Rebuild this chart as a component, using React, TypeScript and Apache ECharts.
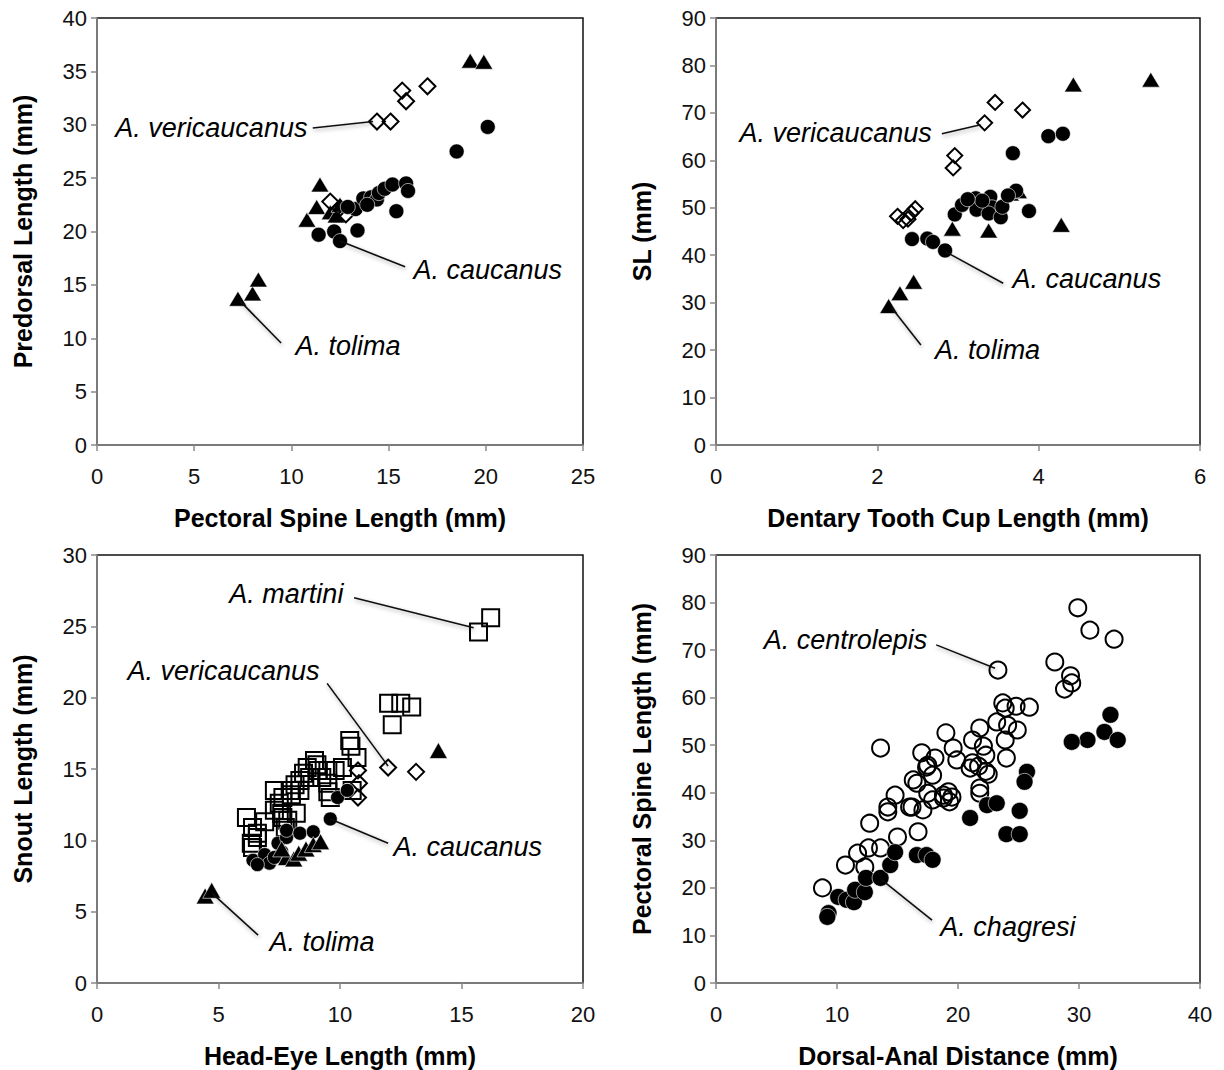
import React, { useEffect, useRef } from "react";
import * as echarts from "echarts";

const FONT = "'Liberation Sans', Arial, Helvetica, sans-serif";

// ---------- Panel 1: Pectoral Spine Length vs Predorsal Length ----------
const p1Tolima = [[7.25, 13.7], [8.0, 14.2], [8.3, 15.5], [10.8, 21.1], [11.3, 22.3], [11.47, 24.4], [12.0, 21.8], [12.3, 21.5], [12.5, 22.5], [19.2, 36.0], [19.9, 35.9]];
const p1Veri = [[12.0, 22.8], [12.5, 22.2], [12.8, 21.6], [14.4, 30.3], [15.1, 30.3], [15.7, 33.2], [15.9, 32.2], [17.0, 33.6]];
const p1Caucanus = [[11.4, 19.7], [12.2, 20.0], [12.5, 19.1], [13.4, 20.1], [13.3, 22.1], [13.7, 23.1], [14.1, 23.2], [14.4, 23.0], [14.5, 23.6], [14.8, 24.0], [15.2, 24.4], [15.4, 21.9], [15.9, 24.5], [16.0, 23.8], [18.5, 27.5], [20.1, 29.8], [13.9, 22.5], [12.9, 22.3]];

// ---------- Panel 2: Dentary Tooth Cup Length vs SL ----------
const p2Tolima = [[2.14, 29.3], [2.28, 32.0], [2.45, 34.4], [2.93, 45.6], [3.38, 45.2], [3.65, 53.0], [3.75, 53.5], [4.28, 46.4], [4.43, 76.0], [5.39, 77.0]];
const p2Veri = [[2.25, 48.2], [2.32, 47.3], [2.42, 48.9], [2.47, 49.8], [2.38, 47.6], [2.96, 61.0], [2.94, 58.4], [3.33, 67.9], [3.46, 72.2], [3.80, 70.6]];
const p2Caucanus = [[2.43, 43.4], [2.62, 43.5], [2.69, 42.8], [2.84, 41.0], [2.96, 48.6], [3.05, 50.6], [3.22, 52.0], [3.23, 49.6], [3.40, 52.3], [3.42, 50.1], [3.38, 48.8], [3.53, 48.0], [3.55, 50.2], [3.72, 53.6], [3.68, 61.5], [3.88, 49.3], [4.12, 65.1], [4.30, 65.6], [3.62, 52.6], [3.30, 51.5], [3.12, 51.8]];

// ---------- Panel 3: Head-Eye Length vs Snout Length ----------
const p3Martini = [[15.7, 24.6], [16.2, 25.6], [12.0, 19.6], [12.5, 19.6], [12.95, 19.35], [12.15, 18.1], [10.4, 17.0], [10.45, 16.6], [10.7, 15.8], [9.05, 15.3], [8.65, 15.1], [9.1, 14.9], [9.5, 14.9], [9.8, 14.9], [8.95, 15.6], [8.5, 14.7], [8.35, 14.2], [8.15, 13.9], [8.75, 14.4], [9.25, 14.4], [7.95, 13.5], [7.3, 13.5], [7.65, 13.0], [7.5, 12.6], [8.0, 13.2], [9.5, 14.0], [9.6, 13.0], [9.5, 13.4], [10.1, 15.1], [10.5, 13.5], [7.3, 12.1], [7.65, 11.6], [8.2, 11.9], [6.9, 11.3], [6.15, 11.6], [6.4, 10.9], [6.6, 10.5], [6.35, 9.8], [6.4, 9.5], [6.6, 10.2], [7.75, 10.9], [7.85, 11.4], [7.6, 11.9], [8.35, 13.5]];
const p3Veri = [[11.98, 15.1], [13.13, 14.8], [10.74, 14.9], [10.78, 14.0], [10.74, 13.0]];
const p3Caucanus = [[6.42, 8.6], [6.9, 9.0], [7.1, 8.4], [7.6, 9.2], [7.45, 9.8], [7.8, 10.2], [7.8, 10.7], [8.35, 10.5], [8.9, 10.6], [9.6, 11.5], [9.9, 13.0], [10.3, 13.5], [6.6, 8.3], [7.3, 8.8]];
const p3Tolima = [[4.45, 6.1], [4.72, 6.5], [7.8, 8.8], [8.1, 8.7], [8.3, 9.1], [8.6, 9.4], [8.9, 9.7], [9.2, 9.9], [7.6, 9.4], [14.05, 16.3]];

// ---------- Panel 4: Dorsal-Anal Distance vs Pectoral Spine Length ----------
const p4Centrolepis = [[29.9, 78.9], [30.9, 74.2], [32.9, 72.3], [28.0, 67.5], [29.3, 64.6], [29.4, 63.1], [28.8, 61.8], [25.9, 58.0], [23.3, 65.8], [23.7, 58.9], [23.9, 57.8], [23.2, 54.9], [24.1, 54.2], [24.9, 53.2], [21.8, 53.6], [23.9, 51.1], [21.2, 51.1], [22.1, 49.8], [22.3, 47.9], [21.2, 46.3], [21.7, 45.6], [22.5, 43.9], [24.0, 47.3], [19.0, 52.6], [19.6, 49.4], [19.9, 46.9], [17.0, 48.4], [18.1, 47.3], [17.5, 45.8], [17.9, 43.7], [17.4, 45.4], [13.6, 49.4], [16.3, 42.7], [16.6, 42.0], [14.8, 39.5], [14.2, 37.0], [16.0, 37.0], [17.5, 39.9], [18.8, 39.5], [19.2, 40.2], [19.5, 39.1], [21.0, 45.2], [21.8, 41.0], [14.2, 36.0], [16.2, 37.0], [17.1, 36.4], [12.7, 33.6], [15.0, 30.7], [16.7, 31.8], [21.8, 39.9], [17.9, 38.5], [18.8, 38.9], [19.3, 38.1], [11.7, 27.3], [12.6, 28.4], [13.6, 28.4], [12.3, 24.4], [10.7, 24.8], [8.8, 20.0], [22.3, 44.5], [24.8, 58.2]];
const p4Chagresi = [[9.3, 14.7], [9.2, 13.9], [10.1, 18.1], [10.8, 17.5], [11.4, 17.0], [11.5, 19.6], [12.3, 19.1], [12.4, 22.1], [13.6, 22.1], [14.4, 24.8], [14.8, 27.5], [16.6, 26.9], [17.4, 26.9], [17.9, 25.9], [21.0, 34.7], [22.4, 37.4], [23.2, 37.8], [25.1, 36.2], [24.0, 31.3], [25.1, 31.3], [25.7, 44.4], [25.5, 42.3], [32.6, 56.4], [32.1, 52.8], [33.2, 51.1], [30.7, 51.1], [29.4, 50.7]];

// ---------- Axes ----------
const xTitles = ["Pectoral Spine Length (mm)", "Dentary Tooth Cup Length (mm)", "Head-Eye Length (mm)", "Dorsal-Anal Distance (mm)"];
const yTitles = ["Predorsal Length (mm)", "SL (mm)", "Snout Length (mm)", "Pectoral Spine Length (mm)"];
const xMax = [25, 6, 20, 40];
const xStep = [5, 2, 5, 10];
const yMax = [40, 90, 30, 90];
const yStep = [5, 10, 5, 10];

// ---------- Annotations: [label, textAnchor, side, lineFrom, lineTo] ----------
type Note = [string, number[], string, number[], number[]];
const p1Notes: Note[] = [
  ["A. vericaucanus", [10.85, 29.7], "left", [11.1, 29.7], [14.2, 30.3]],
  ["A. caucanus", [16.25, 16.4], "right", [12.5, 19.1], [15.85, 16.7]],
  ["A. tolima", [10.19, 9.3], "right", [7.35, 13.5], [9.47, 9.55]],
];
const p2Notes: Note[] = [
  ["A. vericaucanus", [2.68, 65.8], "left", [2.8, 65.6], [3.28, 67.5]],
  ["A. caucanus", [3.67, 35.0], "right", [2.85, 40.7], [3.56, 34.1]],
  ["A. tolima", [2.71, 20.0], "right", [2.17, 29.1], [2.54, 21.1]],
];
const p3Notes: Note[] = [
  ["A. martini", [10.16, 27.26], "left", [10.58, 27.0], [15.5, 24.9]],
  ["A. vericaucanus", [9.18, 21.9], "left", [9.47, 21.0], [11.98, 15.2]],
  ["A. caucanus", [12.18, 9.53], "right", [9.6, 11.5], [11.98, 9.8]],
  ["A. tolima", [7.08, 2.87], "right", [4.73, 6.3], [6.63, 3.36]],
];
const p4Notes: Note[] = [
  ["A. centrolepis", [17.5, 72.1], "left", [18.2, 71.1], [23.06, 66.2]],
  ["A. chagresi", [18.5, 11.8], "right", [13.7, 21.7], [17.85, 13.2]],
];

function markers(gi: number, data: number[][], symbol: string, size: any, filled: boolean) {
  return {
    type: "scatter",
    xAxisIndex: gi,
    yAxisIndex: gi,
    data,
    symbol,
    symbolSize: size,
    silent: true,
    itemStyle: filled
      ? { color: "#000", borderColor: "#fff", borderWidth: 0.6, opacity: 1 }
      : { color: "rgba(255,255,255,0)", borderColor: "#000", borderWidth: 2, opacity: 1 },
  };
}

function notes(gi: number, list: Note[]) {
  return {
    type: "scatter",
    xAxisIndex: gi,
    yAxisIndex: gi,
    silent: true,
    symbolSize: 1,
    itemStyle: { color: "rgba(0,0,0,0)", opacity: 1 },
    data: list.map((n) => ({ name: n[0], value: n[1], label: { position: n[2] } })),
    label: {
      show: true,
      formatter: "{b}",
      fontSize: 27,
      fontStyle: "italic",
      fontFamily: FONT,
      color: "#000",
      opacity: 1,
      distance: 0,
    },
    markLine: {
      silent: true,
      symbol: ["none", "none"],
      label: { show: false },
      lineStyle: {
        color: "#111",
        width: 1.6,
        type: "solid",
        opacity: 1,
        shadowColor: "rgba(0,0,0,0.35)",
        shadowBlur: 4,
        shadowOffsetX: 1,
        shadowOffsetY: 2,
      },
      data: list.map((n) => [{ coord: n[3] }, { coord: n[4] }]),
    },
  };
}

function buildOption() {
  const grids = [
    { left: 97, top: 18, width: 486, height: 427 },
    { left: 716, top: 18, width: 484, height: 427 },
    { left: 97, top: 555, width: 486, height: 428 },
    { left: 716, top: 555, width: 484, height: 428 },
  ].map((g) => ({ ...g, show: true, borderColor: "#111", borderWidth: 1.5, backgroundColor: "transparent" }));

  const axisCommon = {
    type: "value",
    min: 0,
    nameLocation: "middle",
    nameTextStyle: { fontSize: 25, fontWeight: "bold", fontFamily: FONT, color: "#000" },
    axisLine: { show: true, onZero: false, lineStyle: { color: "#8a8a8a", width: 1.5 } },
    axisTick: { show: true, inside: false, length: 6, lineStyle: { color: "#8a8a8a", width: 1.5 } },
    splitLine: { show: false },
  };

  const xAxis = [0, 1, 2, 3].map((i) => ({
    ...axisCommon,
    gridIndex: i,
    max: xMax[i],
    interval: xStep[i],
    name: xTitles[i],
    nameGap: 60,
    axisLabel: { fontSize: 22, color: "#111", fontFamily: FONT, margin: 20 },
  }));
  const yAxis = [0, 1, 2, 3].map((i) => ({
    ...axisCommon,
    gridIndex: i,
    max: yMax[i],
    interval: yStep[i],
    name: yTitles[i],
    nameGap: 62,
    axisLabel: { fontSize: 22, color: "#111", fontFamily: FONT, margin: 10 },
  }));

  const series = [
    markers(0, p1Tolima, "triangle", [18, 15], true),
    markers(0, p1Veri, "diamond", 16, false),
    markers(0, p1Caucanus, "circle", 15, true),
    notes(0, p1Notes),

    markers(1, p2Tolima, "triangle", [18, 15], true),
    markers(1, p2Veri, "diamond", 15, false),
    markers(1, p2Caucanus, "circle", 15, true),
    notes(1, p2Notes),

    markers(2, p3Martini, "rect", 17, false),
    markers(2, p3Veri, "diamond", 16, false),
    markers(2, p3Caucanus, "circle", 14, true),
    markers(2, p3Tolima, "triangle", [18, 16], true),
    notes(2, p3Notes),

    markers(3, p4Centrolepis, "circle", 17, false),
    markers(3, p4Chagresi, "circle", 17, true),
    notes(3, p4Notes),
  ];

  return {
    animation: false,
    backgroundColor: "#fff",
    grid: grids,
    xAxis,
    yAxis,
    series,
  };
}

export default function App() {
  const ref = useRef<HTMLDivElement>(null);
  useEffect(() => {
    const chart = echarts.init(ref.current!, null, { renderer: "svg" });
    chart.setOption(buildOption() as any);
    return () => chart.dispose();
  }, []);
  return (
    <div
      ref={ref}
      style={{ position: "absolute", left: 0, top: 0, width: 1224, height: 1070, background: "#fff" }}
    />
  );
}
